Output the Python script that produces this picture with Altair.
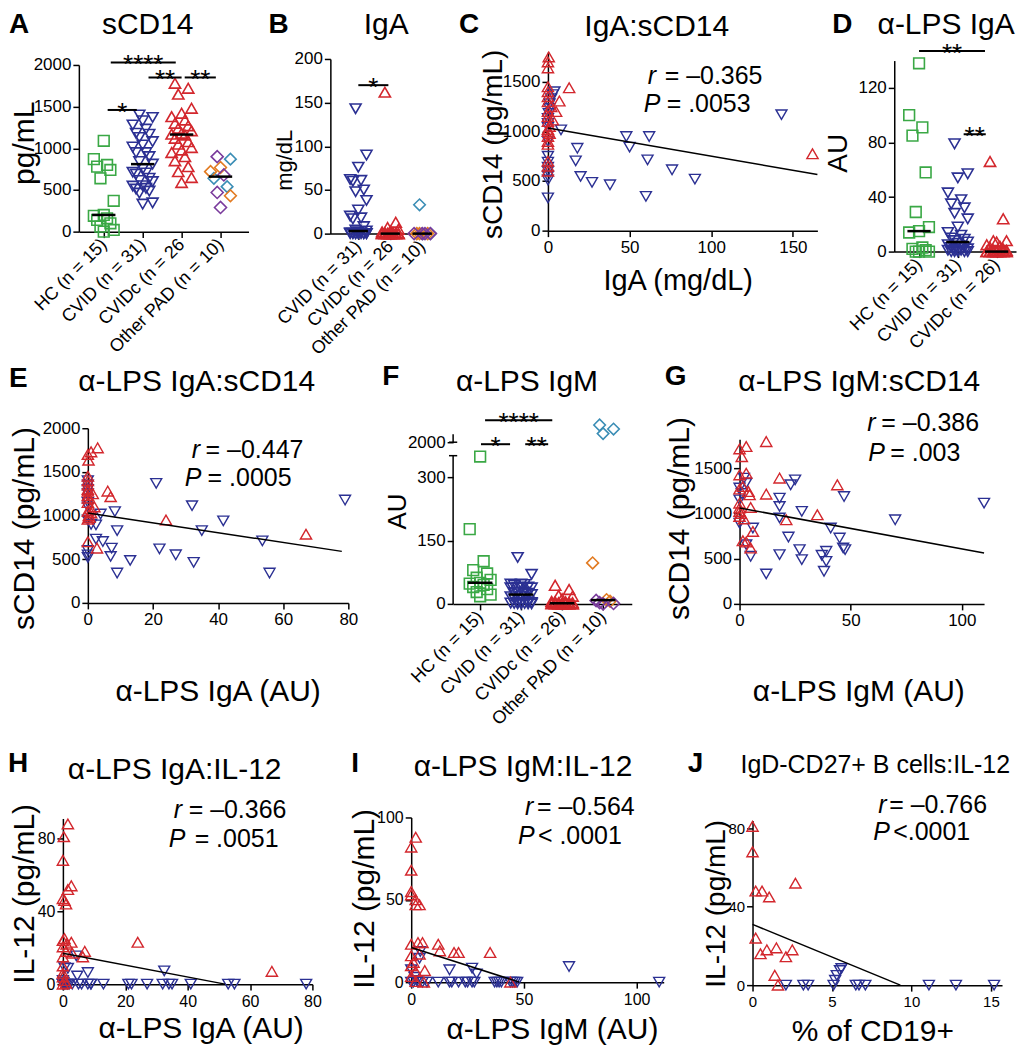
import json
import altair as alt
import pandas as pd

FONT = "Liberation Sans"
W, H = 245, 340
SX, SY = 30, 60
ONE = pd.DataFrame({"a": [0]})

GREEN, BLUE, RED = "#3aa845", "#2b3093", "#d3272d"
TEAL, ORANGE, PURPLE = "#3a8db5", "#e27b22", "#7a3b9c"
KEYS = ["HC", "CVID", "CVIDc", "PADt", "PADo", "PADp"]

# ---------------- data ----------------
A_LABELS = ["HC (n = 15)", "CVID (n = 31)", "CVIDc (n = 26", "Other PAD (n = 10)"]
A_HC = [1090, 870, 800, 780, 740, 640, 370, 200, 190, 160, 140, 100, 60, 20, 0]
A_CVID = [1400, 1370, 1330, 1280, 1230, 1180, 1168, 1130, 1080, 1040, 1015, 948, 948, 900, 841,
          810, 750, 713, 703, 690, 640, 613, 600, 550, 546, 519, 510, 486, 462, 345, 330]
A_CVIDC = [1780, 1720, 1650, 1480, 1420, 1380, 1340, 1300, 1270, 1240, 1210, 1180, 1170, 1160,
           1120, 1080, 1050, 1010, 980, 950, 900, 850, 780, 720, 650, 590]
A_PAD_TEAL = [870, 640, 540]
A_PAD_ORANGE = [770, 720, 430]
A_PAD_PURPLE = [900, 680, 470, 290]
A_SIG_X1 = [0.1, 0.18, 1.15, 2.08]
A_SIG_X2 = [0.85, 1.85, 2.0, 2.88]
A_SIG_Y = [1460, 2030, 1850, 1850]
A_SIG_T = ["*", "****", "**", "**"]

B_LABELS = ["CVID (n = 31)", "CVIDc (n = 26", "Other PAD (n = 10)"]
CVID_IGA = [143, 90, 76, 62, 61, 60, 50, 48, 38, 27, 20, 18, 17, 8,
            4, 3, 2, 1, 1, 0.5, 0, 0, 0, 0, 0, 0, 0, 0, 0, 0, 0]
CVIDC_IGA = [162, 13, 7, 5, 3, 2, 1, 1, 0.5] + [0] * 17
B_PAD_TEAL = [33, 0, 0]
B_PAD_ORANGE = [0, 0, 0]
B_PAD_PURPLE = [0, 0, 0, 0]
B_SIG_X1, B_SIG_X2, B_SIG_Y, B_SIG_T = [0.0], [0.94], [170], ["*"]

C_CVID_SCD14 = [1168, 519, 613, 948, 713, 345, 841, 948, 462, 486, 546, 830, 703, 1015,
                1400, 1370, 1330, 1280, 1230, 1180, 1130, 1080, 1040, 900, 750, 690, 640, 600, 550, 510, 330]
C_CVIDC_SCD14 = [775, 1440, 1306, 1200, 1115, 1250, 1050, 980, 1750, 1700, 1640, 1450, 1400,
                 1350, 1300, 1200, 1150, 1100, 1000, 950, 900, 870, 700, 650, 600, 1020]
C_LINE_X, C_LINE_Y = [0, 165], [1035, 565]

D_LABELS = ["HC (n = 15)", "CVID (n = 31)", "CVIDc (n = 26)"]
D_HC = [138, 100, 91, 85, 58, 29, 18, 15, 14, 3, 2, 1, 0, 0, 0]
D_CVID = [79, 57, 54, 43, 38, 35, 32, 28, 24, 18, 14, 12, 10, 9, 8, 7, 6, 5, 4, 3, 3, 2, 2,
          1, 1, 1, 0, 0, 0, 0, 0]
D_CVIDC = [66, 24, 8, 8, 7, 5, 4, 3, 2, 1, 1] + [0] * 15
D_SIG_X1, D_SIG_X2, D_SIG_Y, D_SIG_T = [0.0, 1.15], [1.7, 1.72], [147, 86], ["**", "**"]

E_CVID_X = [21, 32, 41.6, 35, 22, 27, 32.5, 53.6, 55.8, 79, 13, 9, 9, 8.3, 7.3, 7, 3.9, 4.6,
            2.5, 2.5, 0, 0, 0, 0, 0, 0, 0, 0, 0, 0, 1]
E_CVID_Y = [1368, 1113, 939, 828, 619, 551, 464, 710, 342, 1178, 486, 342, 828, 1045, 627, 532,
            1018, 703, 730, 893, 1400, 1350, 1300, 1250, 1150, 1100, 950, 600, 550, 520, 900]
E_CVIDC_X = [1, 3, 0.2, 0, 0, 0, 0, 0, 0, 0, 0, 0, 0, 0.5, 1, 2, 6.1, 7, 24, 67, 2.8, 0, 0.3,
             0.8, 1.5, 0]
E_CVIDC_Y = [1730, 1775, 1634, 1700, 1450, 1400, 1350, 1300, 1280, 1230, 1200, 1150, 1050, 980,
             1030, 1100, 1280, 1216, 950, 787, 627, 700, 1000, 1080, 1250, 960]
E_LINE_X, E_LINE_Y = [0, 78], [1030, 590]

F_LABELS = ["HC (n = 15)", "CVID (n = 31)", "CVIDc (n = 26)", "Other PAD (n = 10)"]
F_HC = [349, 177, 101, 80, 72, 62, 57, 50, 48, 45, 40, 35, 28, 22, 18]
F_CVID = [110, 70, 47, 47, 46, 44, 40, 39, 38, 38, 38, 28, 27, 25, 24, 22, 18, 17, 17, 12, 5,
          4, 3, 3, 2, 1, 1, 0, 0, 0, 0]
F_CVIDC = [44, 34, 20, 18, 12, 6, 5, 5, 4, 3, 3, 2, 2, 1, 1] + [0] * 11
F_PAD_TEAL = [2150, 2230, 2300]
F_PAD_ORANGE = [97, 10, 6]
F_PAD_PURPLE = [0, 1, 3, 8]
F_SIG_X1 = [0.12, 0.02, 1.1]
F_SIG_X2 = [1.76, 0.73, 1.66]
F_SIG_Y = [2383, 1756, 1756]
F_SIG_T = ["****", "*", "**"]

G_CVID_X = [110, 70, 47, 46.6, 47.5, 45, 41, 39, 39, 38, 37, 28, 27, 28, 25, 23, 22, 18, 18, 18,
            18, 12, 6, 5, 3, 2, 3, 0, 0, 0, 1]
G_CVID_Y = [1114, 930, 1187, 618, 600, 728, 838, 581, 470, 360, 537, 489, 600, 1022, 1371, 1316,
            739, 1077, 1169, 544, 950, 331, 838, 526, 654, 1390, 1334, 1150, 1280, 893, 1220]
G_CVIDC_X = [12, 0, 3, 1, 0, 3, 18, 12, 44, 35, 21, 1.5, 4, 4.5, 5, 0, 0, 0, 6, 1.5, 3, 5, 0,
             0.5, 2, 0]
G_CVIDC_Y = [1794, 1713, 1739, 1628, 1426, 1445, 1390, 1213, 1316, 985, 930, 1297, 1242, 1206,
             1066, 1022, 967, 1114, 801, 698, 684, 618, 1270, 1000, 940, 1060]
G_LINE_X, G_LINE_Y = [0, 110], [1060, 562]

H_CVIDC_X = [1.6, 0.3, 0, 2.7, 1.6, 0, 0.5, 1, 0, 2.7, 0, 1, 3, 7, 6.4, 0, 0, 0, 0.5, 1, 24, 67,
             0, 0.5, 1.2, 0]
H_CVIDC_Y = [88, 81, 68, 54, 52, 47, 46, 44, 24, 23, 20.5, 18, 17, 18, 15, 15, 6, 4, 2, 0.5, 23,
             7, 10, 25, 22, 0]
H_CVID_X = [0, 1, 2, 5, 8, 9, 13, 21, 22, 27, 32, 34, 35, 41, 53, 55, 78, 4.3, 4.6, 8, 0.5, 1.6,
            32.5, 0, 0.5, 1.5, 3, 0, 0.2, 6, 9]
H_CVID_Y = [0] * 17 + [15.5, 4.5, 6.4, 9, 8.7, 7.3, 0, 0, 0, 0, 2, 1, 0, 0]
H_LINE_X, H_LINE_Y = [0, 52], [17, 0]

I_CVIDC_X = [2, 0, 0, 0, 0, 2, 2, 3.7, 0, 3, 5, 12, 12.7, 19, 21, 35, 0, 3.7, 2, 6, 0, 2, 5.6,
             44, 0, 1]
I_CVIDC_Y = [88, 82, 68, 55, 53, 50, 47, 47, 23, 24, 24, 23, 19, 18, 18, 18, 16, 17, 6.5, 7,
             3.4, 0.4, 0, 0, 10, 12]
I_CVID_X = [0, 1, 3, 5, 7, 12, 17, 18, 21, 24, 25, 27, 28, 37, 38, 39, 40, 44, 46, 47, 110, 70,
            17, 27, 29, 4, 3.7, 0, 1.5, 2.5, 45]
I_CVID_Y = [0] * 21 + [9.5, 7.5, 8.5, 5, 18.6, 14.5, 7.5, 3, 1, 0]
I_LINE_X, I_LINE_Y = [0, 48], [21, 0]

J_CVIDC_X = [0, 0, 0.2, 0.6, 1.05, 2.7, 0.2, 0.5, 0.9, 1.5, 2.1, 2.5, 1.4, 1.6]
J_CVIDC_Y = [81, 68, 48, 48, 45, 52, 24, 16, 18, 19, 14.5, 18, 5, 0]
J_CVID_X = [2.1, 3.2, 3.5, 5.1, 5.2, 5.3, 5.5, 5.6, 6.5, 6.7, 7.1, 11.1, 12.8, 15.2]
J_CVID_Y = [0, 0, 0, 0, 2.5, 5, 7.5, 8.5, 0, 0, 0, 0, 0, 0]
J_LINE_X, J_LINE_Y = [0, 9.3], [31, 0]

# ---------------- helpers ----------------
COLOR = alt.Color("g:N", scale=alt.Scale(domain=KEYS, range=[GREEN, BLUE, RED, TEAL, ORANGE, PURPLE]), legend=None)
SHAPE = alt.Shape("g:N", scale=alt.Scale(domain=KEYS, range=["square", "triangle-down", "triangle-up", "diamond", "diamond", "diamond"]), legend=None)
SIZE = alt.Size("g:N", scale=alt.Scale(domain=KEYS, range=[115, 145, 145, 105, 105, 105]), legend=None)

AX = dict(labelFont=FONT, labelColor="black", tickSize=6, tickWidth=1.5, tickColor="black",
          domainColor="black", domainWidth=1.5, grid=False, labelOverlap=False, labelFlush=False,
          titleFont=FONT, titleFontWeight="normal", titleColor="black", format="d")


def box(r, c):
    return 8 + SX + c * W, 8 + SY + r * H


def txt(s, px, py, b, size, weight="normal", style="normal", align="left"):
    return alt.Chart(ONE).mark_text(text=s, font=FONT, fontSize=size, fontWeight=weight, fontStyle=style,
                                    align=align, baseline="alphabetic", color="black").encode(
        x=alt.value(px - b[0]), y=alt.value(py - b[1]))


def header(b, letter, lpos, title, tpos, tsize=30):
    return [txt(letter, lpos[0], lpos[1], b, 28, weight="bold"),
            txt(title, tpos[0], tpos[1], b, tsize, align="center")]


def stats(b, rx, rex, ry, rtxt, px_, pex, py_, ptxt):
    return [txt("r", rx, ry, b, 25, style="italic"), txt(rtxt, rex, ry, b, 25),
            txt("P", px_, py_, b, 25, style="italic"), txt(ptxt, pex, py_, b, 25)]


def y_axis(b, axx, ticks, title, tpos, tsize, domain=True, lsize=17):
    return alt.Axis(orient="left", offset=-(axx - b[0]), values=ticks, title=title,
                    titleX=tpos[0] - axx, titleY=tpos[1] - b[1], titleAngle=270, titleAlign="center",
                    titleBaseline="middle", titleFontSize=tsize, domain=domain, labelFontSize=lsize,
                    labelPadding=2, **AX)


def x_cat_axis(b, axy, labels):
    expr = json.dumps(labels) + "[datum.value]"
    return alt.Axis(orient="bottom", offset=(axy - b[1]) - H, values=list(range(len(labels))),
                    labelExpr=expr, labelAngle=315, labelAlign="right", labelBaseline="middle",
                    title=None, labelFontSize=18, labelPadding=4, **AX)


def x_num_axis(b, axy, ticks, title, tpos, tsize, lsize=17):
    return alt.Axis(orient="bottom", offset=(axy - b[1]) - H, values=ticks, title=title,
                    titleX=tpos[0] - b[0], titleY=tpos[1] - axy, titleAlign="center",
                    titleBaseline="alphabetic", titleFontSize=tsize, labelFontSize=lsize,
                    labelPadding=3, **AX)


def dot_df(groups):
    rows = []
    for ci, key, vals in groups:
        for v in vals:
            rows.append({"ci": ci, "g": key, "v": v})
    return pd.DataFrame(rows)


def dotplot(b, df, labels, xdom, xpx, axy, ydom, ypx, yticks, ytitle, ytpos, ytsize, sig, ydomain=True):
    xs = alt.Scale(domain=xdom, range=[xpx[0] - b[0], xpx[1] - b[0]], nice=False, zero=False)
    ys = alt.Scale(domain=ydom, range=[p - b[1] for p in ypx], nice=False, zero=False)
    xa = x_cat_axis(b, axy, labels)
    ya = y_axis(b, xpx[0], yticks, ytitle, ytpos, ytsize, domain=ydomain)

    def X(f):
        return alt.X(f, scale=xs, axis=xa)

    def Y(f):
        return alt.Y(f, scale=ys, axis=ya)

    pts = alt.Chart(df).transform_window(
        rk="row_number()", groupby=["ci"], sort=[alt.SortField("v", order="ascending")]
    ).transform_calculate(
        xj="datum.ci + ((((datum.rk * 3) % 7) - 3) * 0.085)"
    ).mark_point(filled=False, strokeWidth=1.6, opacity=1).encode(
        x=X("xj:Q"), y=Y("v:Q"), color=COLOR, shape=SHAPE, size=SIZE)
    med = alt.Chart(df).transform_aggregate(m="median(v)", groupby=["ci"]).transform_calculate(
        x1="datum.ci - 0.3", x2="datum.ci + 0.3"
    ).mark_rule(color="black", strokeWidth=2.5).encode(x=X("x1:Q"), x2="x2:Q", y=Y("m:Q"))
    sdf = pd.DataFrame({"x1": sig[0], "x2": sig[1], "y": sig[2], "lab": sig[3]})
    sb = alt.Chart(sdf).mark_rule(color="black", strokeWidth=2).encode(x=X("x1:Q"), x2="x2:Q", y=Y("y:Q"))
    st = alt.Chart(sdf).transform_calculate(xm="(datum.x1 + datum.x2) / 2").mark_text(
        font=FONT, fontSize=26, color="black", baseline="alphabetic", dy=11
    ).encode(x=X("xm:Q"), y=Y("y:Q"), text="lab:N")
    return [pts, med, sb, st], X, Y


def scatter(b, xb, yb, xr, yr, xdom, xpx, ydom, ypx, xticks, yticks, xtitle, xtpos, xtsize,
            ytitle, ytpos, ytsize, lx, ly, lsize=17):
    xs = alt.Scale(domain=xdom, range=[xpx[0] - b[0], xpx[1] - b[0]], nice=False, zero=False)
    ys = alt.Scale(domain=ydom, range=[p - b[1] for p in ypx], nice=False, zero=False)
    xa = x_num_axis(b, ypx[0], xticks, xtitle, xtpos, xtsize, lsize=lsize)
    ya = y_axis(b, xpx[0], yticks, ytitle, ytpos, ytsize, lsize=lsize)
    df = pd.DataFrame({"x": list(xb) + list(xr), "y": list(yb) + list(yr),
                       "g": ["CVID"] * len(xb) + ["CVIDc"] * len(xr)})
    pts = alt.Chart(df).mark_point(filled=False, strokeWidth=1.4, opacity=1).encode(
        x=alt.X("x:Q", scale=xs, axis=xa), y=alt.Y("y:Q", scale=ys, axis=ya),
        color=COLOR, shape=SHAPE, size=SIZE)
    ldf = pd.DataFrame({"x": lx, "y": ly})
    line = alt.Chart(ldf).mark_line(color="black", strokeWidth=1.5).encode(
        x=alt.X("x:Q", scale=xs, axis=xa), y=alt.Y("y:Q", scale=ys, axis=ya))
    return [pts, line]


def panel(layers):
    return alt.layer(*layers).properties(width=W, height=H)


# ---------------- panels ----------------
# A
b = box(0, 0)
dfA = dot_df([(0, "HC", A_HC), (1, "CVID", A_CVID), (2, "CVIDc", A_CVIDC),
              (3, "PADt", A_PAD_TEAL), (3, "PADo", A_PAD_ORANGE), (3, "PADp", A_PAD_PURPLE)])
lA, _, _ = dotplot(b, dfA, A_LABELS, [-0.64, 3.72], [78, 248], 230, [0, 2000], [230, 63],
                   [0, 500, 1000, 1500, 2000], "pg/mL", (24, 141), 30,
                   (A_SIG_X1, A_SIG_X2, A_SIG_Y, A_SIG_T))
anchor = alt.Chart(ONE).mark_point(opacity=0, size=1).encode(x=alt.value(-SX), y=alt.value(-SY))
pA = panel(lA + header(b, "A", (8, 31), "sCD14", (147, 32)) + [anchor])

# B
b = box(0, 1)
dfB = dot_df([(0, "CVID", CVID_IGA), (1, "CVIDc", CVIDC_IGA),
              (2, "PADt", B_PAD_TEAL), (2, "PADo", B_PAD_ORANGE), (2, "PADp", B_PAD_PURPLE)])
lB, _, _ = dotplot(b, dfB, B_LABELS, [-0.875, 2.31], [330, 432], 232, [0, 200], [232, 57],
                   [0, 50, 100, 150, 200], "mg/dL", (284, 158), 22,
                   (B_SIG_X1, B_SIG_X2, B_SIG_Y, B_SIG_T))
pB = panel(lB + header(b, "B", (268, 31), "IgA", (386, 32)))

# C
b = box(0, 2)
lC = scatter(b, CVID_IGA, C_CVID_SCD14, CVIDC_IGA, C_CVIDC_SCD14, [0, 165], [548, 818], [0, 1800],
             [229, 50], [0, 50, 100, 150], [0, 500, 1000, 1500], "IgA (mg/dL)", (678, 288), 29,
             "sCD14 (pg/mL)", (493, 142), 28, C_LINE_X, C_LINE_Y)
pC = panel(lC + header(b, "C", (459, 31), "IgA:sCD14", (657, 34))
           + stats(b, 648, 665, 82, "= \u20130.365", 644, 667, 110, "= .0053"))

# D
b = box(0, 3)
dfD = dot_df([(0, "HC", D_HC), (1, "CVID", D_CVID), (2, "CVIDc", D_CVIDC)])
lD, _, _ = dotplot(b, dfD, D_LABELS, [-0.64, 2.5], [895, 1017], 250, [0, 140], [250, 58.6],
                   [0, 40, 80, 120], "AU", (839, 151), 28,
                   (D_SIG_X1, D_SIG_X2, D_SIG_Y, D_SIG_T))
pD = panel(lD + header(b, "D", (833, 31), "\u03b1-LPS IgA", (947, 32)))

# E
b = box(1, 0)
lE = scatter(b, E_CVID_X, E_CVID_Y, E_CVIDC_X, E_CVIDC_Y, [0, 80], [87, 348], [0, 2000], [602, 427],
             [0, 20, 40, 60, 80], [0, 500, 1000, 1500, 2000], "\u03b1-LPS IgA (AU)", (217, 700), 30,
             "sCD14 (pg/mL)", (24, 527), 30, E_LINE_X, E_LINE_Y)
pE = panel(lE + header(b, "E", (8, 386), "\u03b1-LPS IgA:sCD14", (196, 390))
           + stats(b, 191, 205, 457, "= \u20130.447", 184, 207, 485, "= .0005"))

# F (broken axis)
b = box(1, 1)
dfF = dot_df([(0, "HC", F_HC), (1, "CVID", F_CVID), (2, "CVIDc", F_CVIDC),
              (3, "PADt", F_PAD_TEAL), (3, "PADo", F_PAD_ORANGE), (3, "PADp", F_PAD_PURPLE)])
F_XMIN = -0.66
lF, XF, YF = dotplot(b, dfF, F_LABELS, [F_XMIN, 3.7], [453, 632], 603, [0, 351, 2000, 2400],
                     [603, 454.5, 441, 418], [0, 150, 300, 2000], "AU", (397, 510), 26,
                     (F_SIG_X1, F_SIG_X2, F_SIG_Y, F_SIG_T), ydomain=False)
seg = pd.DataFrame({"x": [F_XMIN, F_XMIN], "y1": [0, 2000], "y2": [351, 2140]})
caps = pd.DataFrame({"x1": [F_XMIN - 0.1, F_XMIN - 0.1], "x2": [F_XMIN + 0.1, F_XMIN + 0.1],
                     "y": [351, 2000]})
segL = alt.Chart(seg).mark_rule(color="black", strokeWidth=1.5).encode(x=XF("x:Q"), y=YF("y1:Q"), y2="y2:Q")
capL = alt.Chart(caps).mark_rule(color="black", strokeWidth=1.5).encode(x=XF("x1:Q"), x2="x2:Q", y=YF("y:Q"))
pF = panel(lF + [segL, capL] + header(b, "F", (382, 384), "\u03b1-LPS IgM", (527, 390)))

# G
b = box(1, 2)
lG = scatter(b, G_CVID_X, G_CVID_Y, G_CVIDC_X, G_CVIDC_Y, [0, 110], [740, 985], [0, 1820], [603, 438],
             [0, 50, 100], [0, 500, 1000, 1500], "\u03b1-LPS IgM (AU)", (859, 700), 30,
             "sCD14 (pg/mL)", (680, 517), 30, G_LINE_X, G_LINE_Y)
pG = panel(lG + header(b, "G", (665, 384), "\u03b1-LPS IgM:sCD14", (860, 390))
           + stats(b, 868, 882, 430, "= \u20130.386", 869, 891, 460, "= .003"))

# H
b = box(2, 0)
lH = scatter(b, H_CVID_X, H_CVID_Y, H_CVIDC_X, H_CVIDC_Y, [0, 80], [62, 312], [0, 91], [984, 818],
             [0, 20, 40, 60, 80], [0, 40, 80], "\u03b1-LPS IgA (AU)", (200, 1037), 30,
             "IL-12 (pg/mL)", (24, 893), 30, H_LINE_X, H_LINE_Y, lsize=16)
pH = panel(lH + header(b, "H", (7, 771), "\u03b1-LPS IgA:IL-12", (174, 778))
           + stats(b, 173, 188, 818, "= \u20130.366", 168, 194, 847, "= .0051"))

# I
b = box(2, 1)
lI = scatter(b, I_CVID_X, I_CVID_Y, I_CVIDC_X, I_CVIDC_Y, [0, 112], [411, 664], [0, 100], [982, 817],
             [0, 50, 100], [0, 50, 100], "\u03b1-LPS IgM (AU)", (552, 1038), 30,
             "IL-12 (pg/mL)", (364, 898), 30, I_LINE_X, I_LINE_Y, lsize=16)
pI = panel(lI + header(b, "I", (351, 771), "\u03b1-LPS IgM:IL-12", (523, 775))
           + stats(b, 525, 537, 815, "= \u20130.564", 518, 538, 844, "< .0001"))

# J
b = box(2, 2)
lJ = scatter(b, J_CVID_X, J_CVID_Y, J_CVIDC_X, J_CVIDC_Y, [0, 15.7], [753, 1003], [0, 84], [985, 820],
             [0, 5, 10, 15], [0, 40, 80], "% of CD19+", (873, 1040), 30,
             "IL-12 (pg/mL)", (717, 903), 28, J_LINE_X, J_LINE_Y, lsize=15)
pJ = panel(lJ + header(b, "J", (688, 771), "IgD-CD27+ B cells:IL-12", (876, 772), tsize=25)
           + stats(b, 879, 890, 813, "= \u20130.766", 874, 894, 840, "<.0001"))


def blank():
    return alt.Chart(ONE).mark_point(opacity=0, size=1).encode(
        x=alt.value(W / 2), y=alt.value(H / 2)).properties(width=W, height=H)


chart = alt.concat(pA, pB, pC, pD, pE, pF, pG, blank(), pH, pI, pJ, blank(),
                   columns=4, spacing=0, bounds="flush").properties(padding=0).configure_view(strokeWidth=0)

chart.save("out.html", embed_options={"renderer": "svg", "actions": False})
